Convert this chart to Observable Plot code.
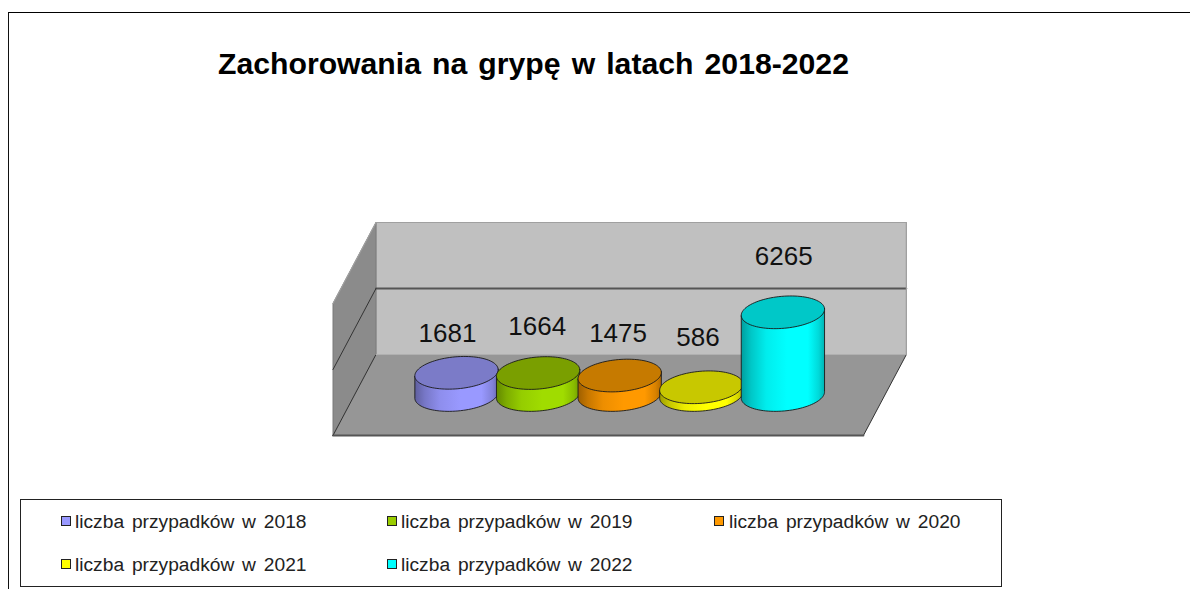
<!DOCTYPE html>
<html lang="pl">
<head>
<meta charset="utf-8">
<script src="https://cdn.jsdelivr.net/npm/d3@7"></script>
<script src="https://cdn.jsdelivr.net/npm/@observablehq/plot@0.6"></script>
<style>
html,body{margin:0;padding:0;background:#fff;overflow:hidden;width:1190px;height:589px;font-family:"Liberation Sans",Arial,sans-serif}
#frame{position:absolute;left:8px;top:12px;width:1182px;height:600px;border-left:1.5px solid #111;border-top:1.5px solid #000;box-sizing:border-box}
#title{position:absolute;left:218px;top:46px;font-weight:bold;font-size:30.2px;line-height:36px;color:#000;word-spacing:2.7px;white-space:nowrap}
#chart{position:absolute;left:0;top:100px}
#legend{position:absolute;left:20px;top:499px;width:982px;height:88px;border:1px solid #222;box-sizing:border-box}
.it{position:absolute;font-size:19.2px;line-height:22px;color:#222;white-space:nowrap;word-spacing:2.5px}
.sw{position:absolute;width:10px;height:10px;border:1px solid #222;box-sizing:border-box}
</style>
</head>
<body>
<div id="frame"></div>
<div id="title"></div>
<div id="chart"></div>
<div id="legend"></div>
<script>
const titleText = "Zachorowania na grypę w latach 2018-2022";
const years = [2018, 2019, 2020, 2021, 2022];
const cases = [1681, 1664, 1475, 586, 6265];
const labelYears = [2017.89, 2018.99, 2019.98, 2020.96, 2022.01];
const labelHeights = [4680, 5210, 4680, 4380, 10450];
const sideColors = ["#9999ff", "#a0dc00", "#ff9900", "#ffff00", "#00ffff"];
const topColors = ["#7b7bc8", "#7a9f00", "#c67a00", "#c8c800", "#00c8c8"];
const swatchColors = ["#9999ff", "#99cc00", "#ff9900", "#ffff00", "#00ffff"];
const legendLabels = years.map(y => `liczba przypadków w ${y}`);
const wallTicks = [0, 5000, 10000];
const xEnds = [2016.75, 2023.25];

const pxPerYear = 81.6, pxPerCase = 0.0132, plotW = 1190, plotH = 390;
const baseX = 456, baseY = 294.5;
const depthX = 21.5, depthY = 40.5;
const capA = 41.8, capB = 16, tilt = 5 * Math.PI / 180;

const px = (year, value, dx, dy) => ({x: year + dx / pxPerYear, y: value - dy / pxPerCase});
const wallPt = (xv, v, d) => px(xv, v, d * depthX, -d * depthY);

function capPoint(year, value, t) {
  const c = Math.cos(t), s = Math.sin(t);
  return px(year, value,
    capA * c * Math.cos(tilt) + capB * s * Math.sin(tilt),
    -capA * c * Math.sin(tilt) + capB * s * Math.cos(tilt));
}
const steps = d3.range(0, 97);
const capOutline = (y, v) => steps.map(i => capPoint(y, v, i / 96 * 2 * Math.PI));
const bodyOutline = (y, v) => {
  const lower = steps.slice(0, 49).map(i => capPoint(y, 0, Math.PI - i / 48 * Math.PI));
  const a = capPoint(y, v, Math.PI), b = capPoint(y, v, 0);
  return [a, ...lower, b, a];
};

const [x0, x1] = xEnds, [t0, tm, t1] = wallTicks;
const backWall = [wallPt(x0,t0,1), wallPt(x1,t0,1), wallPt(x1,t1,1), wallPt(x0,t1,1), wallPt(x0,t0,1)];
const leftWall = [wallPt(x0,t0,-1), wallPt(x0,t0,1), wallPt(x0,t1,1), wallPt(x0,t1,-1), wallPt(x0,t0,-1)];
const floor = [wallPt(x0,t0,-1), wallPt(x1,t0,-1), wallPt(x1,t0,1), wallPt(x0,t0,1), wallPt(x0,t0,-1)];
const poly = (pts, o) => Plot.line(pts, {x: "x", y: "y", ...o});

function gradients() {
  const defs = d3.create("svg:defs");
  years.forEach((y, i) => {
    const g = defs.append("linearGradient").attr("id", `g${y}`);
    const base = d3.rgb(sideColors[i]);
    [[0, .62], [.12, .78], [.3, .93], [.55, 1], [.8, 1], [.93, .85], [1, .7]].forEach(([o, f]) => {
      g.append("stop").attr("offset", o).attr("stop-color", d3.rgb(base.r * f, base.g * f, base.b * f).formatHex());
    });
  });
  return defs.node();
}

const cylinders = years.flatMap((y, i) => [
  poly(bodyOutline(y, cases[i]), {fill: `url(#g${y})`, stroke: "#1a1a1a", strokeWidth: 0.9}),
  poly(capOutline(y, cases[i]), {fill: topColors[i], stroke: "#1a1a1a", strokeWidth: 0.9})
]);

const chart = Plot.plot({
  width: plotW, height: plotH,
  marginTop: 0, marginRight: 0, marginBottom: 0, marginLeft: 0,
  style: {background: "transparent", overflow: "visible"},
  x: {axis: null, domain: [years[0] - baseX / pxPerYear, years[0] + (plotW - baseX) / pxPerYear], range: [0, plotW]},
  y: {axis: null, domain: [0, baseY / pxPerCase], range: [baseY, 0]},
  marks: [
    gradients,
    poly(backWall, {fill: "#c0c0c0", stroke: "#a8a8a8", strokeWidth: 1.2}),
    poly(leftWall, {fill: "#8b8b8b", stroke: "#7a7a7a", strokeWidth: 1}),
    poly(floor, {fill: "#969696", stroke: "none"}),
    poly([wallPt(x0,tm,1), wallPt(x1,tm,1)], {stroke: "#555", strokeWidth: 1.8}),
    poly([wallPt(x0,tm,-1), wallPt(x0,tm,1)], {stroke: "#333", strokeWidth: 1}),
    poly([wallPt(x0,t0,-1), wallPt(x0,t0,1)], {stroke: "#333", strokeWidth: 1}),
    poly([wallPt(x1,t0,-1), wallPt(x1,t0,1)], {stroke: "#333", strokeWidth: 1}),
    poly([wallPt(x0,t0,-1), wallPt(x1,t0,-1)], {stroke: "#555", strokeWidth: 2}),
    poly([wallPt(x0,t0,1), wallPt(x1,t0,1)], {stroke: "#b0b0b0", strokeWidth: 1}),
    poly([wallPt(x0,t1,-1), wallPt(x0,t1,1), wallPt(x1,t1,1), wallPt(x1,t0,1)], {stroke: "#a0a0a0", strokeWidth: 1.2}),
    ...cylinders,
    Plot.text(cases, {
      x: (d, i) => labelYears[i], y: (d, i) => labelHeights[i], text: d => String(d),
      fontSize: 26, fontFamily: "Liberation Sans, Arial, sans-serif", fill: "#111", textAnchor: "middle"
    })
  ]
});
document.getElementById("chart").appendChild(chart);
document.getElementById("title").textContent = titleText;

const swatchX = [40, 366, 693], textX = [54, 380, 708], rowY = [11, 54];
const legend = document.getElementById("legend");
legendLabels.forEach((lab, i) => {
  const c = i % 3, r = Math.floor(i / 3);
  const s = document.createElement("div");
  s.className = "sw";
  s.style.cssText = `left:${swatchX[c]}px;top:${rowY[r] + 5}px;background:${swatchColors[i]}`;
  const t = document.createElement("div");
  t.className = "it";
  t.style.cssText = `left:${textX[c]}px;top:${rowY[r]}px`;
  t.textContent = lab;
  legend.append(s, t);
});
</script>
</body>
</html>
